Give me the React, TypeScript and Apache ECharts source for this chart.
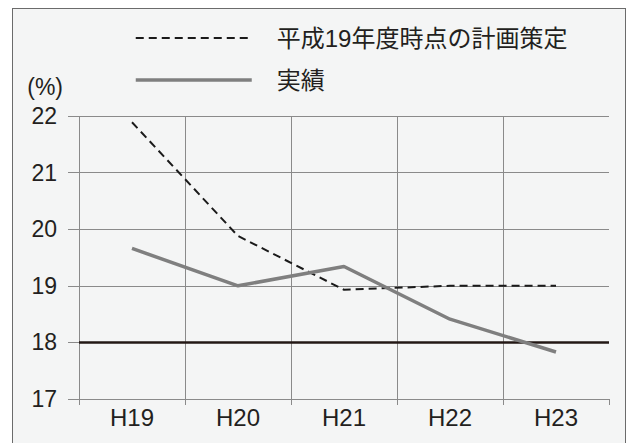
import React, { useEffect, useRef } from "react";
import * as echarts from "echarts";

const categories = ["H19", "H20", "H21", "H22", "H23"];
const planValues = [21.89, 19.88, 18.93, 19.0, 19.0];
const actualValues = [19.66, 19.0, 19.34, 18.41, 17.83];
const targetValue = 18;
const yTicks = { min: 17, max: 22, interval: 1 };
const planName = "平成19年度時点の計画策定";
const actualName = "実績";

const FONT = "'Liberation Sans', 'Noto Sans CJK JP', sans-serif";

export default function App() {
  const ref = useRef<HTMLDivElement>(null);

  useEffect(() => {
    if (!ref.current) return;
    const chart = echarts.init(ref.current, undefined, { renderer: "svg" });
    chart.setOption({
      animation: false,
      textStyle: { fontFamily: FONT },
      legend: {
        orient: "vertical",
        left: 129,
        top: 21,
        itemWidth: 116,
        itemHeight: 14,
        itemGap: 18,
        itemStyle: { opacity: 0 },
        textStyle: {
          fontSize: 24,
          color: "#231f20",
          fontFamily: FONT,
          lineHeight: 24,
          padding: [0, 0, 0, 20],
        },
        data: [
          { name: planName, lineStyle: { width: 2, type: [8, 5], color: "#1a1a1a" } },
          { name: actualName, lineStyle: { width: 3.5, color: "#7f7f7f" } },
        ],
      },
      grid: { left: 79, right: 28, top: 116, bottom: 44, containLabel: false },
      xAxis: {
        type: "category",
        data: categories,
        boundaryGap: true,
        axisLine: { show: true, lineStyle: { color: "#8a8a8a", width: 1 } },
        axisTick: {
          show: true,
          length: 6,
          alignWithLabel: false,
          lineStyle: { color: "#8a8a8a", width: 1 },
        },
        splitLine: {
          show: true,
          showMaxLine: false,
          lineStyle: { color: "#8a8a8a", width: 1 },
        },
        axisLabel: {
          margin: 6,
          fontSize: 24,
          color: "#231f20",
          fontFamily: FONT,
        },
      },
      yAxis: {
        type: "value",
        min: yTicks.min,
        max: yTicks.max,
        interval: yTicks.interval,
        name: "(%)",
        nameLocation: "end",
        nameGap: 29,
        nameTextStyle: {
          fontSize: 23,
          color: "#231f20",
          fontFamily: FONT,
          align: "right",
          verticalAlign: "middle",
          padding: [0, 16, 0, 0],
        },
        axisLine: { show: false },
        axisTick: {
          show: true,
          length: 11,
          lineStyle: { color: "#8a8a8a", width: 1 },
        },
        splitLine: { show: true, lineStyle: { color: "#8a8a8a", width: 1 } },
        axisLabel: {
          margin: 22,
          fontSize: 23,
          color: "#231f20",
          fontFamily: FONT,
        },
      },
      series: [
        {
          name: planName,
          type: "line",
          data: planValues,
          symbol: "none",
          lineStyle: { color: "#1a1a1a", width: 2, type: [8, 5] },
          itemStyle: { color: "#1a1a1a" },
          z: 3,
        },
        {
          name: actualName,
          type: "line",
          data: actualValues,
          symbol: "none",
          lineStyle: { color: "#7f7f7f", width: 3.5 },
          itemStyle: { color: "#7f7f7f" },
          z: 4,
          markLine: {
            silent: true,
            symbol: "none",
            label: { show: false },
            lineStyle: { color: "#231815", width: 2.5, type: "solid" },
            data: [{ yAxis: targetValue }],
            z: 2,
          },
        },
      ],
    });
    return () => chart.dispose();
  }, []);

  return (
    <div
      style={{
        position: "absolute",
        left: 0,
        top: 0,
        width: 637,
        height: 443,
        overflow: "hidden",
        background: "#ffffff",
      }}
    >
      <div
        style={{
          position: "absolute",
          left: 12,
          top: 8,
          width: 614,
          height: 480,
          border: "1.5px solid #6b6b6b",
          background: "#f4f5f5",
          boxSizing: "border-box",
        }}
      />
      <div
        ref={ref}
        style={{ position: "absolute", left: 0, top: 0, width: 637, height: 443 }}
      />
    </div>
  );
}
